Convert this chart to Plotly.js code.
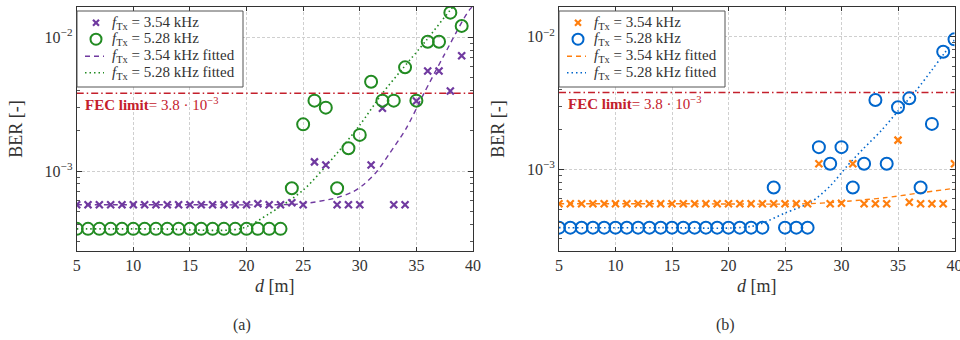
<!DOCTYPE html>
<html>
<head>
<meta charset="utf-8">
<script src="https://cdn.plot.ly/plotly-3.0.1.min.js"></script>
<style>html,body{margin:0;padding:0;background:#fff;}#chart{width:960px;height:340px;}</style>
</head>
<body>
<div id="chart"></div>
<script>
// ---------- data ----------
const FEC_LIMIT = 3.8e-3;
const xTicks = [5, 10, 15, 20, 25, 30, 35, 40];
const legendLabels = ['<i>f</i><sub>Tx</sub> = 3.54 kHz', '<i>f</i><sub>Tx</sub> = 5.28 kHz',
                      '<i>f</i><sub>Tx</sub> = 3.54 kHz fitted', '<i>f</i><sub>Tx</sub> = 5.28 kHz fitted'];

// (a)
const dA = [5,6,7,8,9,10,11,12,13,14,15,16,17,18,19,20,21,22,23,24,25,26,27,28,29,30,31,32,33,34,35,36,37,38,39];
const berA354 = [5.6e-4,5.6e-4,5.6e-4,5.6e-4,5.6e-4,5.6e-4,5.6e-4,5.6e-4,5.6e-4,5.6e-4,5.6e-4,5.6e-4,5.6e-4,5.6e-4,5.6e-4,5.6e-4,5.7e-4,5.6e-4,5.6e-4,5.8e-4,5.6e-4,1.17e-3,1.11e-3,5.6e-4,5.6e-4,5.6e-4,1.11e-3,2.94e-3,5.6e-4,5.6e-4,3.33e-3,5.57e-3,5.57e-3,3.95e-3,7.25e-3];
const berA528 = [3.7e-4,3.7e-4,3.7e-4,3.7e-4,3.7e-4,3.7e-4,3.7e-4,3.7e-4,3.7e-4,3.7e-4,3.7e-4,3.7e-4,3.7e-4,3.7e-4,3.7e-4,3.7e-4,3.7e-4,3.7e-4,3.7e-4,7.43e-4,2.23e-3,3.35e-3,2.97e-3,7.43e-4,1.48e-3,1.86e-3,4.64e-3,3.35e-3,3.35e-3,5.94e-3,3.35e-3,9.22e-3,9.22e-3,1.52e-2,1.21e-2];
const fitA354d = [5, 15, 22, 25, 28, 29.4, 30.3, 31.5, 32.65, 34.1, 35.6, 37.4, 39.7, 40.5];
const fitA354v = [5.6e-4, 5.6e-4, 5.6e-4, 5.7e-4, 6.33e-4, 7.0e-4, 7.86e-4, 9.9e-4, 1.36e-3, 2.08e-3, 3.7e-3, 7.2e-3, 1.6e-2, 1.85e-2];
const fitA528d = [5, 12, 19.5, 22, 25, 28, 30, 32, 33.8, 35.9, 38, 40.5];
const fitA528v = [3.7e-4, 3.7e-4, 3.72e-4, 4.8e-4, 7.2e-4, 1.36e-3, 2.2e-3, 3.8e-3, 5.83e-3, 9.5e-3, 1.59e-2, 2.7e-2];

// (b)
const dB = [5,6,7,8,9,10,11,12,13,14,15,16,17,18,19,20,21,22,23,24,25,26,27,28,29,30,31,32,33,34,35,36,37,38,39,40];
const berB354 = [5.5e-4,5.5e-4,5.5e-4,5.5e-4,5.5e-4,5.5e-4,5.5e-4,5.5e-4,5.5e-4,5.5e-4,5.5e-4,5.5e-4,5.5e-4,5.5e-4,5.5e-4,5.5e-4,5.5e-4,5.5e-4,5.5e-4,5.5e-4,5.5e-4,5.5e-4,5.5e-4,1.10e-3,5.5e-4,5.55e-4,1.10e-3,5.5e-4,5.5e-4,5.5e-4,1.66e-3,5.64e-4,5.5e-4,5.5e-4,5.5e-4,1.10e-3];
const berB528 = [3.63e-4,3.63e-4,3.63e-4,3.63e-4,3.63e-4,3.63e-4,3.63e-4,3.63e-4,3.63e-4,3.63e-4,3.63e-4,3.63e-4,3.63e-4,3.63e-4,3.63e-4,3.63e-4,3.63e-4,3.63e-4,3.63e-4,7.3e-4,3.63e-4,3.63e-4,3.63e-4,1.47e-3,1.10e-3,1.47e-3,7.3e-4,1.10e-3,3.33e-3,1.10e-3,2.94e-3,3.43e-3,7.3e-4,2.2e-3,7.7e-3,9.55e-3];
const fitB354d = [5, 15, 27, 30.8, 33.8, 36.7, 40];
const fitB354v = [5.5e-4, 5.5e-4, 5.5e-4, 5.77e-4, 6.1e-4, 6.59e-4, 7.19e-4];
const fitB528d = [5, 14, 22.15, 25, 27.3, 29, 30.5, 32, 33.5, 35, 36.5, 38, 39.1, 40];
const fitB528v = [3.63e-4, 3.63e-4, 3.73e-4, 4.68e-4, 5.66e-4, 7.49e-4, 1.06e-3, 1.45e-3, 1.95e-3, 2.75e-3, 3.83e-3, 5.61e-3, 7.5e-3, 9.44e-3];

// ---------- style ----------
const W = 960, H = 340;
const SERIF = '"Liberation Serif", "DejaVu Serif", serif';
const TXT = '#333';
const PURPLE = 'rgb(112,58,160)';
const GREEN = 'rgb(34,139,34)';
const ORANGE = 'rgb(255,127,14)';
const BLUE = 'rgb(0,102,204)';
const RED = 'rgb(196,32,44)';
const DASH = '5px,4px', DOT = '1.5px,3px';

function fecTrace(xa, ya) {
  return {x: [xTicks[0], xTicks[xTicks.length-1]], y: [FEC_LIMIT, FEC_LIMIT], xaxis: xa, yaxis: ya,
    mode: 'lines', line: {color: RED, width: 1.5, dash: '7px,3px,1.5px,3px'}, showlegend: false, hoverinfo: 'skip'};
}
function markerTrace(x, y, xa, ya, kind, color) {
  const m = kind === 'x'
    ? {symbol: 'x-thin-open', size: 7, color: color, line: {color: color, width: 2.2}}
    : {symbol: 'circle-open', size: 12, color: color, line: {color: color, width: 2}};
  return {x: x, y: y, xaxis: xa, yaxis: ya, mode: 'markers', marker: m, showlegend: false};
}
function fitTrace(x, y, xa, ya, dash, color) {
  return {x: x, y: y, xaxis: xa, yaxis: ya, mode: 'lines', showlegend: false,
    line: {color: color, width: dash === DOT ? 1.6 : 1.4, dash: dash, shape: 'spline', smoothing: 0.8}};
}

const traces = [
  fecTrace('x', 'y'),
  fitTrace(fitA354d, fitA354v, 'x', 'y', DASH, PURPLE),
  fitTrace(fitA528d, fitA528v, 'x', 'y', DOT, GREEN),
  markerTrace(dA, berA354, 'x', 'y', 'x', PURPLE),
  markerTrace(dA, berA528, 'x', 'y', 'o', GREEN),
  fecTrace('x2', 'y2'),
  fitTrace(fitB354d, fitB354v, 'x2', 'y2', DASH, ORANGE),
  fitTrace(fitB528d, fitB528v, 'x2', 'y2', DOT, BLUE),
  markerTrace(dB, berB354, 'x2', 'y2', 'x', ORANGE),
  markerTrace(dB, berB528, 'x2', 'y2', 'o', BLUE)
];

// ---------- legend boxes (drawn as paper shapes + annotations) ----------
const px = v => v / W, py = v => 1 - v / H;
const shapes = [], annotations = [];
function addLegend(left, colors) {
  const top = 11, bottom = 87, right = left + 166;
  shapes.push({type: 'rect', xref: 'paper', yref: 'paper', layer: 'above',
    x0: px(left), x1: px(right), y0: py(bottom), y1: py(top),
    fillcolor: '#fff', line: {color: '#555', width: 1}});
  const rows = [22.7, 39.2, 56.2, 72.7];
  const cx = left + 19, tx = left + 33;
  // 'x' marker
  [[-3, -3, 3, 3], [-3, 3, 3, -3]].forEach(d => shapes.push({type: 'line', xref: 'paper', yref: 'paper', layer: 'above',
    x0: px(cx + d[0]), y0: py(rows[0] + d[1]), x1: px(cx + d[2]), y1: py(rows[0] + d[3]),
    line: {color: colors[0], width: 2.2}}));
  // 'o' marker
  shapes.push({type: 'circle', xref: 'paper', yref: 'paper', layer: 'above',
    x0: px(cx - 5.5), x1: px(cx + 5.5), y0: py(rows[1] + 5.5), y1: py(rows[1] - 5.5),
    line: {color: colors[1], width: 2}});
  // line samples
  [[rows[2], DASH, 1.4, colors[0]], [rows[3], DOT, 1.6, colors[1]]].forEach(r => shapes.push({type: 'line',
    xref: 'paper', yref: 'paper', layer: 'above', x0: px(left + 8), x1: px(left + 27), y0: py(r[0]), y1: py(r[0]),
    line: {color: r[3], width: r[2], dash: r[1]}}));
  legendLabels.forEach((t, i) => annotations.push({xref: 'paper', yref: 'paper', x: px(tx), y: py(rows[i]),
    xanchor: 'left', yanchor: 'middle', showarrow: false, text: t,
    font: {family: SERIF, size: 15, color: TXT}}));
}
addLegend(77, [PURPLE, GREEN]);
addLegend(559, [ORANGE, BLUE]);

const minorVals = [3e-4,4e-4,5e-4,6e-4,7e-4,8e-4,9e-4,2e-3,3e-3,4e-3,5e-3,6e-3,7e-3,8e-3,9e-3,2e-2];

function xAxis(domain, anchor) {
  return {domain: domain, anchor: anchor, range: [5, 40], tickvals: xTicks, ticks: 'inside', ticklen: 4,
    tickcolor: '#333', showline: true, linecolor: '#333', linewidth: 1, mirror: 'allticks',
    showgrid: true, gridcolor: '#cfcfcf', griddash: '3px,2px', gridwidth: 1, zeroline: false,
    ticklabeloverflow: 'allow',
    tickfont: {family: SERIF, size: 16, color: TXT},
    title: {text: '<i>d</i> [m]', font: {family: SERIF, size: 18, color: TXT}, standoff: 6}};
}
function yAxis(domain, anchor, range) {
  return {domain: domain, anchor: anchor, type: 'log', range: range,
    tickvals: [1e-3, 1e-2], ticktext: ['10<sup>\u22123</sup>', '10<sup>\u22122</sup>'],
    ticks: 'inside', ticklen: 5, tickcolor: '#333', showline: true, linecolor: '#333', linewidth: 1, mirror: 'allticks',
    showgrid: true, gridcolor: '#cfcfcf', griddash: '3px,2px', gridwidth: 1, zeroline: false,
    minor: {tickvals: minorVals, ticks: 'inside', ticklen: 3, tickcolor: '#555', showgrid: false},
    tickfont: {family: SERIF, size: 16, color: TXT},
    title: {text: 'BER [-]', font: {family: SERIF, size: 18, color: TXT}, standoff: 17}};
}

const yDom = [1 - 251/H, 1 - 7/H];
const fecText = '<b>FEC limit</b>= 3.8 \u00b7 10<sup>\u22123</sup>';
annotations.push(
  {xref: 'x', yref: 'y', x: 5.6, y: -2.5, xanchor: 'left', yanchor: 'middle', showarrow: false,
   text: fecText, font: {family: SERIF, size: 15, color: RED}},
  {xref: 'x2', yref: 'y2', x: 5.6, y: -2.5, xanchor: 'left', yanchor: 'middle', showarrow: false,
   text: fecText, font: {family: SERIF, size: 15, color: RED}},
  {xref: 'paper', yref: 'paper', x: px(242), y: py(325), xanchor: 'center', yanchor: 'middle', showarrow: false,
   text: '(a)', font: {family: SERIF, size: 16, color: TXT}},
  {xref: 'paper', yref: 'paper', x: px(725), y: py(325), xanchor: 'center', yanchor: 'middle', showarrow: false,
   text: '(b)', font: {family: SERIF, size: 16, color: TXT}}
);

const layout = {
  width: W, height: H, margin: {l: 0, r: 0, t: 0, b: 0},
  paper_bgcolor: '#fff', plot_bgcolor: '#fff', showlegend: false,
  xaxis: xAxis([76.7/W, 473/W], 'y'),
  yaxis: yAxis(yDom, 'x', [-3.597, -1.776]),
  xaxis2: xAxis([559/W, 954.5/W], 'y2'),
  yaxis2: yAxis(yDom, 'x2', [-3.616, -1.776]),
  shapes: shapes,
  annotations: annotations
};

Plotly.newPlot('chart', traces, layout, {displayModeBar: false, staticPlot: true});
</script>
</body>
</html>
